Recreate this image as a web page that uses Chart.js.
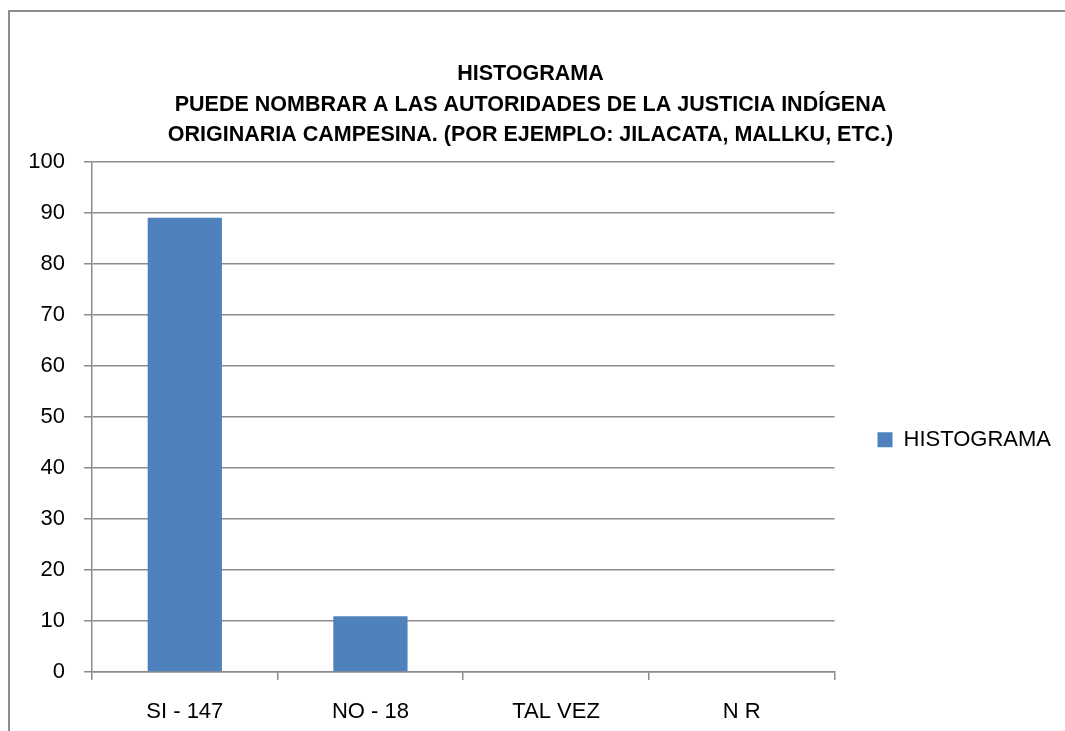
<!DOCTYPE html>
<html lang="es">
<head>
  <meta charset="UTF-8" />
  <title>Histograma</title>
  <script src="https://cdn.jsdelivr.net/npm/chart.js"></script>
  <style>
    body {
      margin: 0;
      background: #fff;
      overflow: hidden;
    }

    /* outer frame, only top and left edges fall inside the window */
    .frame {
      position: absolute;
      left: 8px;
      top: 10px;
      width: 1200px;
      height: 900px;
      border-left: 2px solid #8c8c8c;
      border-top: 2px solid #8c8c8c;
    }

    #chart {
      position: absolute;
      left: 0;
      top: 0;
    }
  </style>
</head>
<body>
  <div class="frame"></div>
  <canvas id="chart" width="1065" height="731"></canvas>

  <script>
    const titleLines = [
      'HISTOGRAMA',
      'PUEDE NOMBRAR A LAS AUTORIDADES DE LA JUSTICIA INDÍGENA',
      'ORIGINARIA CAMPESINA. (POR EJEMPLO: JILACATA, MALLKU, ETC.)'
    ];
    const categories = ['SI - 147', 'NO - 18', 'TAL VEZ', 'N R'];
    const seriesName = 'HISTOGRAMA';
    const values = [89.09, 10.91, 0, 0];

    const FONT = "'Liberation Sans', Arial, sans-serif";
    const GRID = '#8c8c8c';

    new Chart(document.getElementById('chart'), {
      type: 'bar',
      data: {
        labels: categories,
        datasets: [{
          label: seriesName,
          data: values,
          backgroundColor: '#4f81bd',
          borderWidth: 0,
          barPercentage: 1,
          categoryPercentage: 0.4
        }]
      },
      options: {
        responsive: false,
        animation: false,
        layout: { padding: { top: 0, right: 4, bottom: 0, left: 0 } },
        plugins: {
          title: {
            display: true,
            text: titleLines,
            color: '#000',
            font: { family: FONT, size: 21.5, weight: 'bold', lineHeight: 30.5 / 21.5 },
            padding: { top: 59, bottom: 11.5 }
          },
          legend: {
            position: 'right',
            // empty legend title only pushes the entry down to the middle of the plot
            title: { display: true, text: '', font: { size: 12 }, padding: 67 },
            labels: {
              color: '#000',
              font: { family: FONT, size: 22 },
              boxWidth: 15,
              boxHeight: 15,
              padding: 43
            }
          },
          tooltip: { enabled: false }
        },
        scales: {
          x: {
            afterFit: s => { s.height = 59; },
            grid: {
              display: true,
              drawOnChartArea: false,
              color: GRID,
              lineWidth: 1.5,
              tickLength: 8
            },
            border: { color: GRID, width: 1.5 },
            ticks: {
              color: '#000',
              font: { family: FONT, size: 22 },
              padding: 19
            }
          },
          y: {
            min: 0,
            max: 100,
            afterFit: s => { s.width = 92; },
            grid: {
              color: GRID,
              lineWidth: 1.5,
              tickLength: 8
            },
            border: { color: GRID, width: 1.5 },
            ticks: {
              stepSize: 10,
              color: '#000',
              font: { family: FONT, size: 22 },
              padding: 19
            }
          }
        }
      }
    });
  </script>
</body>
</html>
